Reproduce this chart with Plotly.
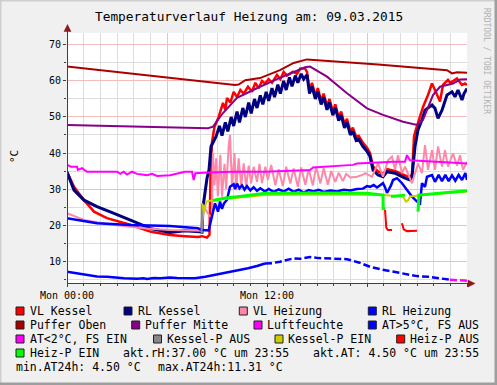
import plotly.graph_objects as go

# ---------------- data (hours since Mon 00:00, value in °C / %) ----------------
VL_KESSEL = [(0, 34.8), (0.42, 30.6), (1.02, 26.9), (1.62, 23.7), (2.4, 21.9), (3.84, 20.0), (5.04, 18.1),
             (6.18, 17.2), (7.08, 16.9), (7.86, 16.7), (8.1, 16.9), (8.4, 16.5), (8.55, 17.3), (8.62, 36.0),
             (8.7, 43.0), (8.85, 47.3), (9.1, 50.0), (9.36, 53.9), (9.5, 52.0), (9.6, 55.3), (9.8, 54.0),
             (10.0, 57.0), (10.2, 55.5), (10.4, 57.5), (10.6, 56.5), (10.86, 58.4), (11.1, 57.0), (11.3, 59.5),
             (11.5, 58.0), (11.7, 60.0), (11.88, 59.3), (12.1, 60.5), (12.3, 59.5), (12.6, 61.7), (12.8, 60.5),
             (13.0, 62.5), (13.2, 61.5), (13.56, 62.6), (13.8, 62.0), (14.0, 63.5), (14.28, 63.5), (14.4, 62.5),
             (14.55, 57.5), (14.7, 59.5), (14.9, 56.0), (15.05, 58.0), (15.25, 54.5), (15.4, 56.5), (15.6, 53.0),
             (15.75, 55.0), (15.95, 51.5), (16.1, 53.5), (16.3, 50.0), (16.45, 51.5), (16.65, 48.0), (16.8, 49.5),
             (17.0, 46.0), (17.15, 47.0), (17.35, 44.5), (17.5, 44.8), (17.76, 42.8), (18.0, 41.5), (18.18, 40.0),
             (18.36, 36.3), (18.66, 34.9), (18.96, 34.2), (19.2, 35.5), (19.68, 35.0), (20.28, 33.8), (20.58, 33.3),
             (20.7, 34.0), (20.82, 44.5), (20.9, 46.0), (21.36, 52.8), (21.66, 56.1), (21.9, 59.3), (22.08, 57.5),
             (22.38, 54.3), (22.56, 58.9), (22.86, 60.3), (23.0, 59.5), (23.4, 60.7), (23.7, 58.9), (23.88, 59.3),
             (24.0, 58.9)]

RL_KESSEL = [(0, 34.7), (0.42, 29.7), (1.02, 26.9), (1.8, 25.1), (2.82, 23.2), (4.02, 20.9), (5.04, 19.0),
             (6.18, 17.9), (7.08, 18.4), (7.98, 18.1), (8.1, 18.0), (8.16, 25.0), (8.28, 28.8), (8.4, 33.0),
             (8.52, 35.3), (8.64, 41.8), (8.94, 44.5), (9.15, 47.5), (9.3, 44.8), (9.5, 48.5), (9.65, 46.0),
             (9.85, 50.0), (10.0, 47.5), (10.2, 51.5), (10.35, 48.5), (10.55, 52.5), (10.7, 50.0), (10.9, 54.0),
             (11.05, 51.0), (11.25, 55.0), (11.4, 52.5), (11.6, 56.0), (11.75, 53.5), (11.95, 57.0), (12.1, 54.5),
             (12.3, 58.0), (12.45, 55.5), (12.65, 59.0), (12.8, 56.5), (13.0, 60.0), (13.15, 57.5), (13.35, 61.0),
             (13.5, 58.5), (13.7, 61.5), (13.85, 59.5), (14.05, 62.0), (14.2, 60.5), (14.4, 61.7), (14.55, 56.5),
             (14.7, 58.5), (14.9, 55.0), (15.05, 57.0), (15.25, 53.5), (15.4, 55.5), (15.6, 52.0), (15.75, 54.0),
             (15.95, 50.5), (16.1, 52.5), (16.3, 49.0), (16.45, 50.5), (16.65, 47.0), (16.8, 48.5), (17.0, 45.0),
             (17.15, 46.0), (17.35, 43.5), (17.5, 43.8), (17.76, 41.8), (18.0, 40.5), (18.18, 39.0), (18.36, 35.3),
             (18.66, 33.9), (18.96, 33.4), (19.2, 34.8), (19.68, 34.4), (20.28, 33.0), (20.58, 32.5), (20.7, 33.4),
             (20.88, 41.8), (21.06, 46.4), (21.3, 49.2), (21.48, 51.9), (21.9, 53.3), (22.08, 52.4), (22.26, 49.6),
             (22.5, 51.9), (22.8, 56.1), (23.1, 57.0), (23.28, 55.6), (23.46, 57.5), (23.7, 54.7), (23.82, 56.5),
             (24.0, 57.9)]

VL_HEIZUNG = [(0, 23.3), (1.02, 21.4), (2.82, 20.0), (4.8, 19.0), (6.18, 18.6), (7.86, 18.6), (8.1, 18.4),
              (8.2, 25.5), (8.35, 24.0), (8.55, 22.5), (8.7, 22.3), (8.76, 40.0), (8.85, 31.0), (8.95, 38.5),
              (9.05, 28.0), (9.2, 39.5), (9.3, 27.9), (9.45, 37.0), (9.55, 30.0), (9.7, 42.0), (9.78, 45.0),
              (9.9, 30.6), (10.05, 40.0), (10.15, 29.7), (10.3, 38.5), (10.45, 31.0), (10.6, 37.1), (10.75, 30.6),
              (10.9, 36.5), (11.05, 31.6), (11.2, 36.2), (11.4, 32.0), (11.55, 37.0), (11.7, 31.6), (11.9, 36.2),
              (12.05, 32.5), (12.25, 36.7), (12.5, 31.0), (12.7, 35.5), (12.95, 30.8), (13.15, 36.2), (13.4, 31.5),
              (13.6, 35.7), (13.85, 30.6), (14.05, 36.0), (14.3, 31.2), (14.5, 35.5), (14.75, 31.0), (14.95, 36.2),
              (15.2, 31.5), (15.4, 35.8), (15.65, 31.2), (15.85, 35.0), (16.1, 32.0), (16.3, 34.5), (16.55, 32.2),
              (16.75, 34.2), (17.0, 33.2), (17.4, 33.4), (17.76, 34.0),
              (17.9, 34.4), (18.3, 33.4), (18.66, 37.1), (18.96, 33.4), (19.26, 38.0), (19.5, 39.0), (19.68, 35.3),
              (19.86, 39.4), (20.1, 34.4), (20.28, 36.2), (20.58, 33.0), (20.7, 31.6), (21.06, 37.1), (21.3, 34.4),
              (21.48, 42.2), (21.66, 35.3), (21.9, 40.8), (22.08, 35.3), (22.26, 41.8), (22.5, 36.2), (22.68, 40.8),
              (22.86, 36.2), (23.16, 39.9), (23.4, 36.5), (23.58, 39.4), (23.76, 35.3), (24.0, 37.6)]

RL_HEIZUNG = [(0, 21.9), (1.8, 20.5), (3.84, 20.0), (6.18, 19.7), (7.86, 19.1), (8.1, 18.6), (8.5, 18.5),
              (8.76, 24.2), (8.88, 26.0), (9.06, 23.7), (9.18, 26.5), (9.3, 24.5), (9.42, 26.0), (9.6, 27.0),
              (9.78, 30.6), (10.0, 31.3), (10.08, 30.0), (10.2, 31.5), (10.35, 30.2), (10.5, 31.0), (10.65, 29.8),
              (10.8, 30.8), (11.0, 29.6), (11.2, 30.5), (11.4, 29.5), (11.6, 30.2), (11.88, 29.3), (12.1, 30.0),
              (12.4, 29.2), (12.7, 29.9), (13.0, 29.3), (13.3, 30.1), (13.6, 29.2), (13.9, 29.8), (14.2, 29.0),
              (14.5, 29.7), (14.8, 29.3), (15.1, 29.8), (15.4, 29.2), (15.8, 29.6), (16.2, 29.3), (16.6, 29.8),
              (17.0, 29.6), (17.4, 30.0), (17.76, 30.1), (18.0, 30.8), (18.18, 30.6), (18.4, 31.1), (18.6, 30.4),
              (18.96, 31.6), (19.08, 30.5), (19.2, 28.9), (19.44, 31.0), (19.56, 32.5), (19.8, 33.0), (20.1, 31.6),
              (20.4, 29.7), (20.7, 27.9), (21.0, 26.5), (21.18, 26.0), (21.3, 31.6), (21.48, 30.6), (21.6, 33.4),
              (21.9, 33.9), (22.08, 32.0), (22.3, 33.9), (22.5, 32.2), (22.7, 33.9), (22.9, 32.2), (23.1, 33.8),
              (23.3, 32.3), (23.5, 33.9), (23.7, 32.5), (23.9, 34.4), (24.0, 32.5)]

PUFFER_OBEN = [(0, 64.0), (10.08, 58.9), (10.3, 59.0), (10.5, 59.7), (10.7, 60.2), (11.58, 60.8), (12.78, 63.0),
               (13.6, 65.0), (14.4, 66.0), (18.66, 64.6), (22.8, 63.0), (23.1, 62.1), (23.4, 62.4), (24.0, 62.3)]

PUFFER_MITTE = [(0, 47.8), (8.46, 46.9), (8.76, 47.3), (9.36, 51.1), (10.2, 55.3), (11.16, 57.5), (11.58, 58.4),
                (12.6, 60.5), (13.56, 62.3), (14.28, 63.8), (14.58, 64.0), (15.6, 61.2), (16.8, 56.6), (18.0, 52.4),
                (18.96, 50.6), (20.16, 48.7), (21.0, 47.8), (21.36, 49.2), (21.96, 56.1), (22.38, 58.4), (23.16, 59.3),
                (23.58, 60.4), (24.0, 60.5)]

LUFTFEUCHTE = [(0, 36.7), (0.24, 36.2), (0.6, 36.2), (0.65, 35.3), (0.9, 35.8), (1.2, 34.8), (3.0, 34.8),
               (3.2, 34.2), (3.4, 34.8), (3.6, 34.0), (3.9, 34.8), (4.2, 34.2), (4.5, 34.0), (4.8, 33.8), (5.1, 34.2),
               (5.4, 33.6), (6.18, 33.8), (7.08, 34.8), (7.5, 34.8), (7.6, 32.5), (7.7, 34.4), (8.1, 34.4),
               (8.46, 34.6), (9.9, 34.8), (11.88, 34.8), (14.58, 35.3), (14.76, 36.0), (17.16, 36.7), (17.4, 37.1),
               (19.56, 37.6), (20.28, 37.6), (20.4, 39.4), (20.58, 38.0), (24.0, 37.1)]

AT_SOLID = [(0, 7.0), (0.6, 6.6), (1.2, 6.3), (1.8, 5.7), (2.4, 5.6), (3.0, 5.3), (3.42, 5.2), (4.2, 5.1),
            (4.6, 5.2), (4.8, 5.0), (5.2, 5.3), (5.6, 5.2), (6.18, 5.4), (6.6, 5.3), (7.2, 5.2), (7.68, 5.2),
            (8.3, 5.6), (8.88, 6.1), (9.6, 6.8), (10.2, 7.3), (10.86, 8.0), (11.4, 8.6), (11.88, 9.3)]
AT_DASHED = [(11.88, 9.3), (12.3, 9.4), (12.78, 9.8), (13.2, 10.4), (13.56, 10.7), (14.0, 10.6), (14.58, 11.1),
             (15.1, 10.8), (15.6, 10.7), (16.2, 10.6), (16.8, 10.5), (17.5, 9.6), (18.18, 8.4), (18.9, 7.6),
             (19.56, 7.0), (20.3, 6.4), (21.0, 5.8), (21.7, 5.6), (22.38, 5.2), (22.98, 4.8)]
AT_LOW = [(22.98, 4.8), (23.4, 4.7), (24.0, 4.5)]

KESSELP_AUS = [(8.08, 17.6), (8.1, 26.0)]
KESSELP_EIN = [(8.12, 26.0), (8.22, 23.3), (8.36, 26.5), (8.6, 26.8), (8.9, 27.0), (9.9, 27.4), (11.88, 28.3),
               (14.0, 28.4), (16.0, 28.5), (18.96, 28.3), (20.16, 27.9), (20.34, 26.5), (20.46, 26.8),
               (20.58, 27.9), (22.0, 28.6), (24.0, 29.3)]
HEIZP_EIN = [(8.76, 26.8), (9.5, 27.5), (10.5, 28.0), (11.88, 28.8), (15.0, 28.9), (18.0, 28.8), (18.96, 28.3),
             (18.97, 24.6), (19.08, 24.6), (19.2, None), (19.44, 27.9), (20.28, 28.3), (20.4, None),
             (21.06, 23.7), (21.12, 28.3), (22.5, 28.9), (24.0, 29.5)]
HEIZP_AUS = [(19.08, 24.2), (19.16, 19.2), (19.26, 18.6), (19.5, 18.6), (19.6, None), (20.1, 20.5),
             (20.2, 18.8), (20.4, 18.3), (21.0, 18.4)]

X_TICKS = [0, 6, 12, 18, 24]
X_TICKTEXT = ["Mon 00:00", "", "Mon 12:00", "", ""]
Y_TICKS = [10, 20, 30, 40, 50, 60, 70]

TITLE = "Temperaturverlauf Heizung am: 09.03.2015"
LEGEND_ROWS = [
    [("#FF0000", "VL Kessel"), ("#000080", "RL Kessel"), ("#FF88AA", "VL Heizung"), ("#0000FF", "RL Heizung")],
    [("#AA0000", "Puffer Oben"), ("#880088", "Puffer Mitte"), ("#FF00FF", "Luftfeuchte"), ("#0000FF", "AT>5°C, FS AUS")],
    [("#FF00FF", "AT<2°C, FS EIN"), ("#888888", "Kessel-P AUS"), ("#CCCC00", "Kessel-P EIN"), ("#FF0000", "Heiz-P AUS")],
    [("#00FF00", "Heiz-P EIN")],
]
INFO_ROW4 = ["akt.rH:37.00 °C um 23:55", "akt.AT: 4.50 °C um 23:55"]
INFO_ROW5 = ["min.AT24h: 4.50 °C", "max.AT24h:11.31 °C"]

# ---------------- layout geometry ----------------
W, H = 497, 385
ML, MR, MT, MB = 67, 30, 33, 102
PW, PH = W - ML - MR, H - MT - MB
MONO = "DejaVu Sans Mono"


def px(x):
    return (x - ML) / PW


def py(y):
    return (H - MB - y) / PH


def split(series):
    return [p[0] for p in series], [p[1] for p in series]


fig = go.Figure()


def add_line(series, color, width, dash=None):
    t, v = split(series)
    fig.add_trace(go.Scatter(x=t, y=v, mode="lines", line=dict(color=color, width=width, dash=dash),
                             showlegend=False, hoverinfo="skip", connectgaps=False))


add_line(VL_KESSEL, "#FF0000", 2.5)
add_line(RL_KESSEL, "#000080", 3)
add_line(VL_HEIZUNG, "#FF88AA", 2)
add_line(RL_HEIZUNG, "#0000FF", 2.5)
add_line(PUFFER_OBEN, "#AA0000", 2)
add_line(PUFFER_MITTE, "#880088", 2)
add_line(LUFTFEUCHTE, "#FF00FF", 2)
add_line(AT_SOLID, "#0000FF", 2.5)
add_line(AT_DASHED, "#0000FF", 2.5, dash="7px,3px")
add_line(AT_LOW, "#FF00FF", 2.5, dash="7px,3px")
add_line(KESSELP_AUS, "#888888", 2)
add_line(KESSELP_EIN, "#CCCC00", 2)
add_line(HEIZP_AUS, "#FF0000", 2)
add_line(HEIZP_EIN, "#00FF00", 3)

MGRID = "#F3BDBD"
GRID = "#DDDDDD"
AXIS = "#404040"
ARROW = "#8B1A1A"

fig.update_layout(
    width=W, height=H,
    margin=dict(l=ML, r=MR, t=MT, b=MB, pad=0),
    paper_bgcolor="#F0F0F0", plot_bgcolor="#FFFFFF",
    showlegend=False,
    font=dict(family=MONO, color="#000000", size=10),
    xaxis=dict(range=[0, 24], tickmode="array", tickvals=X_TICKS, ticktext=X_TICKTEXT,
               showgrid=True, gridcolor=MGRID, gridwidth=1, zeroline=False, showline=False,
               ticks="outside", ticklen=3, tickcolor=AXIS, tickfont=dict(family=MONO, size=10),
               minor=dict(tickmode="linear", tick0=0, dtick=1, showgrid=True, gridcolor=GRID, gridwidth=1,
                          ticks="outside", ticklen=2, tickcolor=AXIS),
               fixedrange=True),
    yaxis=dict(range=[3.89, 73.33], tickmode="array", tickvals=Y_TICKS,
               showgrid=True, gridcolor=MGRID, gridwidth=1, zeroline=False, showline=False,
               ticks="outside", ticklen=3, tickcolor=AXIS, tickfont=dict(family=MONO, size=10),
               minor=dict(tickmode="linear", tick0=0, dtick=5, showgrid=True, gridcolor=GRID, gridwidth=1,
                          ticks="outside", ticklen=2, tickcolor=AXIS),
               fixedrange=True),
)

shapes = []
# frame
shapes.append(dict(type="rect", xref="paper", yref="paper", x0=px(0), x1=px(W), y0=py(0), y1=py(1.5),
                   fillcolor="#CFCFCF", line=dict(width=0), layer="above"))
shapes.append(dict(type="rect", xref="paper", yref="paper", x0=px(0), x1=px(1.5), y0=py(0), y1=py(H),
                   fillcolor="#CFCFCF", line=dict(width=0), layer="above"))
shapes.append(dict(type="rect", xref="paper", yref="paper", x0=px(W - 2.5), x1=px(W), y0=py(0), y1=py(H),
                   fillcolor="#9E9E9E", line=dict(width=0), layer="above"))
shapes.append(dict(type="rect", xref="paper", yref="paper", x0=px(0), x1=px(W), y0=py(H - 2.5), y1=py(H),
                   fillcolor="#9E9E9E", line=dict(width=0), layer="above"))
# axes
shapes.append(dict(type="line", xref="paper", yref="paper", x0=px(67.5), x1=px(67.5), y0=py(283.5), y1=py(30),
                   line=dict(color=AXIS, width=1), layer="above"))
shapes.append(dict(type="line", xref="paper", yref="paper", x0=px(67), x1=px(470), y0=py(283.5), y1=py(283.5),
                   line=dict(color=AXIS, width=1), layer="above"))
# arrows
shapes.append(dict(type="path", xref="paper", yref="paper",
                   path=f"M {px(67.5)} {py(24.5)} L {px(64)} {py(31.5)} L {px(71)} {py(31.5)} Z",
                   fillcolor=ARROW, line=dict(color=ARROW, width=0.5), layer="above"))
shapes.append(dict(type="path", xref="paper", yref="paper",
                   path=f"M {px(475)} {py(283.5)} L {px(468)} {py(280)} L {px(468)} {py(287)} Z",
                   fillcolor=ARROW, line=dict(color=ARROW, width=0.5), layer="above"))

annotations = []


def text(x, y, s, size=11.5, anchor="left", angle=0, color="#000000"):
    annotations.append(dict(x=px(x), y=py(y), xref="paper", yref="paper", text=s, showarrow=False,
                            xanchor=anchor, yanchor="middle", textangle=angle, borderpad=0, borderwidth=0,
                            font=dict(family=MONO, size=size, color=color)))


text(249, 17, TITLE, size=12.8, anchor="center")
text(14, 157, "°C", size=11, anchor="center", angle=-90)
text(487, 61, "RRDTOOL / TOBI OETIKER", size=8, anchor="center", angle=90, color="#B0B0B0")

row_y = [311, 325, 339, 353]
box_x = [[16, 124, 239.3, 368.3], [16, 131.7, 254, 368.3], [16, 153.5, 275, 396.7], [16]]
text_x = [[30, 138.3, 253.3, 382.3], [30, 145, 266.7, 381.7], [30, 166.7, 288.3, 410], [30]]
for r, items in enumerate(LEGEND_ROWS):
    for c, (col, lab) in enumerate(items):
        bx = box_x[r][c]
        yy = row_y[r]
        shapes.append(dict(type="rect", xref="paper", yref="paper", x0=px(bx), x1=px(bx + 8),
                           y0=py(yy + 4), y1=py(yy - 4), fillcolor=col,
                           line=dict(color="#202020", width=1), layer="above"))
        text(text_x[r][c], yy, lab)

text(122.7, 353, INFO_ROW4[0])
text(312.7, 353, INFO_ROW4[1])
text(16, 367, INFO_ROW5[0])
text(158.3, 367, INFO_ROW5[1])

fig.update_layout(shapes=shapes, annotations=annotations)
fig.write_html("out.html", config={"displayModeBar": False},
               post_script="document.body.style.margin='0px';document.body.style.overflow='hidden';")
